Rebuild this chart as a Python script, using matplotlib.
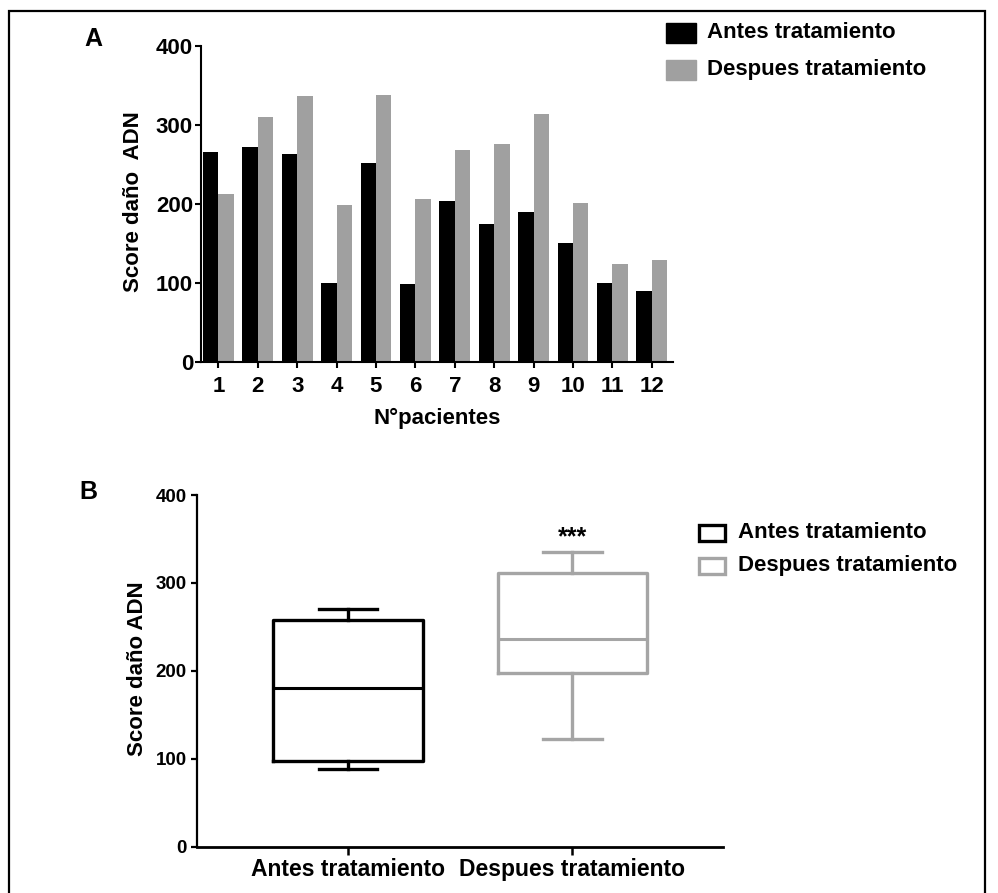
import numpy as np
import matplotlib
matplotlib.use("Agg")
from matplotlib import pyplot as plt
from matplotlib.patches import Rectangle

# panel A: DNA damage score per patient
pacientes = list(range(1, 13))
antes = [266, 272, 263, 100, 252, 98, 203, 174, 190, 150, 100, 89]
despues = [212, 310, 336, 198, 338, 206, 268, 275, 314, 201, 124, 129]

# panel B: box summary
grupos = ["Antes tratamiento", "Despues tratamiento"]
box_min = [88, 123]
box_q1 = [98, 198]
box_med = [180, 236]
box_q3 = [258, 311]
box_max = [270, 335]

plt.rcParams['font.family'] = ['Liberation Sans', 'DejaVu Sans']
plt.rcParams['font.weight'] = 'bold'

W, H = 998, 893
fig = plt.figure(figsize=(W / 100, H / 100), dpi=100)


def px_rect(x0, y0, x1, y1):
    # pixel box (top-left origin) -> figure fraction
    return [x0 / W, 1 - y1 / H, (x1 - x0) / W, (y1 - y0) / H]


def fx(x):
    return x / W


def fy(y):
    return 1 - y / H


black = '#000000'
gray_bar = '#a0a0a0'
gray_box = '#a5a5a5'

# ---------------- panel A ----------------
axA = fig.add_axes(px_rect(200.7, 45.7, 672.7, 361.7))
x = np.array(pacientes)
axA.bar(x - 0.195, antes, width=0.39, color=black)
axA.bar(x + 0.195, despues, width=0.39, color=gray_bar)
axA.set_xlim(0.553, 12.53)
axA.set_ylim(0, 400)
axA.set_yticks([0, 100, 200, 300, 400])
axA.set_xticks(pacientes)
for s in ['top', 'right']:
    axA.spines[s].set_visible(False)
for s in ['left', 'bottom']:
    axA.spines[s].set_linewidth(1.5)
axA.tick_params(axis='y', direction='out', length=4, width=1.5, pad=1.5, labelsize=16)
axA.tick_params(axis='x', direction='out', length=4, width=1.5, pad=6, labelsize=16)
axA.set_ylabel("Score daño  ADN", fontsize=16, fontweight='bold', va='center')
axA.yaxis.set_label_coords(-0.142, 0.507)
axA.set_xlabel("N°pacientes", fontsize=16, fontweight='bold', va='center')
axA.xaxis.set_label_coords(0.5, -0.18)

fig.text(fx(93), fy(39), "A", fontsize=18, fontweight='bold', ha='center', va='center')

# legend A
for i, (lab, col) in enumerate(zip(grupos, [black, gray_bar])):
    yc = 33 + 37 * i
    fig.patches.append(Rectangle((fx(666), fy(yc + 10)), 30 / W, 20 / H,
                                 transform=fig.transFigure, color=col))
    fig.text(fx(707), fy(yc), lab, fontsize=16, fontweight='bold', ha='left', va='center')

# ---------------- panel B ----------------
axB = fig.add_axes(px_rect(197.3, 495, 723, 846.7))
cols = [black, gray_box]
stats = []
for i in range(2):
    stats.append(dict(whislo=box_min[i], q1=box_q1[i], med=box_med[i],
                      q3=box_q3[i], whishi=box_max[i], fliers=[]))
for i in range(2):
    c = cols[i]
    axB.bxp([stats[i]], positions=[i + 1], widths=0.665, showfliers=False,
            boxprops=dict(color=c, linewidth=2.4),
            medianprops=dict(color=c, linewidth=2.2),
            whiskerprops=dict(color=c, linewidth=2.4),
            capprops=dict(color=c, linewidth=2.4), capwidths=0.26)
axB.set_xlim(0.33, 2.67)
axB.set_ylim(0, 400)
axB.set_yticks([0, 100, 200, 300, 400])
axB.set_xticks([1, 2])
axB.set_xticklabels(grupos)
for s in ['top', 'right']:
    axB.spines[s].set_visible(False)
axB.spines['left'].set_linewidth(1.6)
axB.spines['bottom'].set_linewidth(2.0)
axB.tick_params(axis='y', direction='out', length=4, width=1.6, pad=3.5, labelsize=13.5)
axB.tick_params(axis='x', direction='out', length=6, width=1.8, pad=2, labelsize=16.5)
axB.set_ylabel("Score daño ADN", fontsize=16, fontweight='bold', va='center')
axB.yaxis.set_label_coords(-0.1147, 0.505)

axB.text(2, 352, "***", fontsize=18, fontweight='bold', ha='center', va='center')

fig.text(fx(88), fy(492), "B", fontsize=18, fontweight='bold', ha='center', va='center')

# legend B
for i, (lab, col) in enumerate(zip(grupos, cols)):
    yc = 533 + 33 * i
    fig.patches.append(Rectangle((fx(699), fy(yc + 8)), 26 / W, 16 / H,
                                 transform=fig.transFigure, facecolor='white',
                                 edgecolor=col, linewidth=2.4))
    fig.text(fx(738), fy(yc), lab, fontsize=16, fontweight='bold', ha='left', va='center')

# outer frame
fig.patches.append(Rectangle((fx(9), fy(905)), (985 - 9) / W, (905 - 11) / H,
                             transform=fig.transFigure, fill=False,
                             edgecolor='black', linewidth=1.6))

fig.savefig("out.png", dpi=100)
